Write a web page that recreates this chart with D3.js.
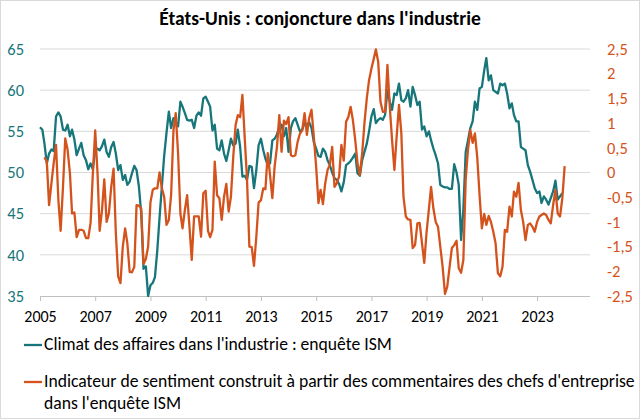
<!DOCTYPE html>
<html><head><meta charset="utf-8">
<script src="https://cdn.jsdelivr.net/npm/d3@7"></script>
<style>body{margin:0;background:#fff}svg{display:block}text{font-family:Carlito,Lato,sans-serif}</style>
</head><body><svg id="c" width="640" height="419"></svg>
<script>
const titleText = "États-Unis : conjoncture dans l'industrie";
const climateStart = "2005-01";
const climateLabel = "Climat des affaires dans l'industrie : enquête ISM";
const climate = [
55.5,55.2,53.5,51.1,52.3,52.8,52.6,56.8,57.3,56.8,55.2,55.1,
55.8,54.4,55.2,54.0,52.1,52.9,53.6,52.1,51.5,50.4,51.1,50.4,
52.7,52.9,52.7,53.2,54.0,52.5,51.9,53.1,53.7,52.3,50.3,50.9,
49.1,49.7,48.5,48.9,49.9,50.8,50.3,48.3,45.0,38.3,38.6,35.0,
36.3,36.6,37.3,40.5,44.5,48.3,52.0,54.8,57.4,55.4,56.6,56.2,
55.6,58.6,58.0,57.2,56.4,56.3,56.4,55.4,56.9,57.3,56.9,59.0,
59.2,58.6,58.0,55.1,55.8,52.9,52.7,53.9,52.3,51.4,52.7,54.1,
53.3,53.5,55.2,53.1,49.5,49.6,49.1,50.8,50.7,48.1,50.3,53.3,
54.1,52.7,51.7,50.9,51.1,53.9,54.1,54.6,55.6,55.8,54.4,55.4,
52.5,55.4,56.2,56.6,55.8,55.0,55.2,56.0,55.8,56.1,55.4,53.7,
52.9,52.0,51.9,52.9,52.5,51.5,50.9,50.0,49.3,49.1,48.6,47.7,
48.8,50.9,51.1,51.4,51.8,52.3,49.9,49.6,51.5,52.5,53.5,55.0,
56.8,57.7,56.0,56.4,56.6,56.4,57.0,60.0,58.6,57.6,59.6,59.4,
60.8,58.8,58.6,59.0,60.0,58.0,60.4,59.4,58.2,58.6,55.2,55.6,
54.4,55.0,53.9,52.9,52.1,51.1,48.5,48.3,48.2,48.2,48.0,48.0,
51.0,50.0,48.5,41.8,45.5,52.5,53.9,55.4,56.2,58.6,57.6,60.2,
60.4,62.4,63.9,61.2,61.8,60.0,59.8,59.6,60.8,60.6,60.8,59.6,
57.8,58.4,57.0,56.2,56.2,53.1,52.9,52.7,50.9,50.1,49.1,48.1,
47.5,47.7,46.3,47.1,46.7,46.1,46.9,47.7,49.0,46.7,47.1,47.5
];
const sentimentStart = "2005-03";
const sentimentLabel1 = "Indicateur de sentiment construit à partir des commentaires des chefs d'entreprise";
const sentimentLabel2 = "dans l'enquête ISM";
const sentiment = [
0.31,0.22,-0.66,-0.22,0.19,0.56,-0.56,-1.18,-0.29,0.69,
0.46,-0.02,-0.83,-0.81,-1.31,-1.16,-1.16,-1.18,-1.33,-1.33,-1.02,-0.02,
0.85,-0.02,-1.18,-0.76,-0.14,-1.00,-0.83,-0.29,0.08,-1.23,-2.11,-2.24,
-1.50,-1.13,-1.43,-2.01,-2.02,-1.91,-0.66,-0.67,-0.73,-1.85,-1.75,-1.5,
-0.6,-0.35,-0.32,-0.32,0.0,-0.32,-0.49,-1.06,-0.96,-0.46,0.85,1.2,
0.39,-0.83,-1.13,-0.76,-0.46,-1.10,-1.77,-0.89,-0.89,-0.89,-1.30,-0.42,
-0.37,-1.18,-1.31,-1.16,0.22,-0.46,-0.52,-0.96,-0.49,-0.23,-0.79,-0.49,
0.32,0.96,1.16,1.12,1.57,0.69,-0.15,-1.50,-1.51,-1.89,-1.30,-0.61,
-0.56,-0.32,-0.34,0.39,-0.05,-0.52,0.12,0.52,1.16,0.42,1.05,0.98,
1.12,0.35,0.33,0.35,0.62,0.79,0.85,1.20,0.76,1.10,1.27,0.73,
0.12,-0.62,-0.35,-0.64,-0.22,0.05,0.15,0.52,-0.29,-0.22,-0.08,0.56,
0.24,1.03,1.12,1.33,1.06,0.66,0.19,-0.05,0.39,1.0,1.50,1.87,
2.1,2.3,2.49,2.24,1.43,1.23,1.23,2.18,1.33,0.66,0.05,0.73,
1.37,0.79,-0.49,-0.89,-0.95,-0.96,-1.53,-1.47,-1.03,-1.02,-1.43,-1.83,
-1.20,-0.73,-0.29,-0.73,-1.00,-1.10,-1.50,-1.91,-2.46,-2.31,-1.91,-1.53,
-1.47,-1.38,-1.94,-2.03,-1.77,-0.15,0.46,0.86,0.60,0.79,0.3,-0.45,
-1.13,-0.84,-1.06,-0.88,-1.0,-1.20,-1.43,-2.04,-2.10,-1.91,-1.16,-1.20,
-0.69,-0.89,-0.39,-0.49,-0.21,-0.76,-1.0,-1.37,-1.06,-1.03,-1.10,-1.20,
-1.0,-0.89,-0.86,-0.83,-0.86,-0.96,-1.03,-0.66,-0.35,-0.83,-0.89,-0.52,
0.13
];
const yearTicks = [2005,2007,2009,2011,2013,2015,2017,2019,2021,2023];
const leftTicks = [35,40,45,50,55,60,65];
const rightTicks = [-2.5,-2,-1.5,-1,-0.5,0,0.5,1,1.5,2,2.5];
const xDomain = ["2005-01","2024-12"];

const teal = "#17767a", orange = "#d4531c", grid = "#d9d9d9";
const parse = d3.timeParse("%Y-%m");
const svg = d3.select("#c");
const W = 640, H = 419;
const m = {l:40, r:590, t:49, b:296};

svg.append("rect").attr("x",0.5).attr("y",0.5).attr("width",W-1).attr("height",H-1)
  .attr("fill","#fff").attr("stroke","#d9d9d9");

const x = d3.scaleTime().domain(xDomain.map(parse)).range([m.l, m.r]);
const yL = d3.scaleLinear().domain([35,65]).range([m.b, m.t]);
const yR = d3.scaleLinear().domain([-2.5,2.5]).range([m.b, m.t]);

const toSeries = (start, vals) => { const s = parse(start); return vals.map((v,i)=>({d:d3.timeMonth.offset(s,i), v})); };
const climateData = toSeries(climateStart, climate);
const sentimentData = toSeries(sentimentStart, sentiment);

// gridlines
svg.append("g").selectAll("line").data(leftTicks.filter(t=>t>35)).join("line")
  .attr("x1",m.l).attr("x2",m.r).attr("y1",d=>yL(d)).attr("y2",d=>yL(d))
  .attr("stroke",grid).attr("stroke-width",1);

// x axis
const xa = svg.append("g").attr("transform",`translate(0,${m.b})`)
  .call(d3.axisBottom(x).tickValues(yearTicks.map(y=>new Date(y,0,1))).tickFormat(d3.timeFormat("%Y")).tickSize(5).tickPadding(10).tickSizeOuter(0));
xa.select(".domain").attr("stroke","#bfbfbf").attr("d",`M${m.l},0.5H${m.r}`);
xa.selectAll(".tick line").attr("stroke","#bfbfbf");
xa.selectAll("text").attr("fill","#000").style("font-size","16px");

// left axis
const la = svg.append("g").attr("transform",`translate(${m.l},0)`)
  .call(d3.axisLeft(yL).tickValues(leftTicks).tickSize(0).tickPadding(16));
la.select(".domain").remove();
la.selectAll("text").attr("fill",teal).style("font-size","16.5px");

// right axis
const fmt = v => d3.format("")(v).replace(".",",").replace("−","-");
const ra = svg.append("g").attr("transform",`translate(${m.r},0)`)
  .call(d3.axisRight(yR).tickValues(rightTicks).tickSize(0).tickPadding(17).tickFormat(fmt));
ra.select(".domain").remove();
ra.selectAll("text").attr("fill",orange).style("font-size","16.5px");

// lines
const lineL = d3.line().x(d=>x(d.d)).y(d=>yL(d.v));
const lineR = d3.line().x(d=>x(d.d)).y(d=>yR(d.v));
svg.append("path").datum(climateData).attr("d",lineL).attr("fill","none")
  .attr("stroke",teal).attr("stroke-width",2.3).attr("stroke-linejoin","round");
svg.append("path").datum(sentimentData).attr("d",lineR).attr("fill","none")
  .attr("stroke",orange).attr("stroke-width",2.3).attr("stroke-linejoin","round");

// title
const t = svg.append("text").attr("x",320).attr("y",25).attr("text-anchor","middle")
  .style("font-weight","bold").style("font-size","18px").attr("fill","#000").text(titleText);
const tw = t.node().getComputedTextLength();
t.style("font-size", (18*322/tw).toFixed(2)+"px");

// legend
const lg = svg.append("g");
lg.append("line").attr("x1",24).attr("x2",42).attr("y1",345).attr("y2",345).attr("stroke",teal).attr("stroke-width",2.3);
lg.append("line").attr("x1",24).attr("x2",42).attr("y1",382).attr("y2",382).attr("stroke",orange).attr("stroke-width",2.3);
const t2 = lg.append("text").attr("x",44).attr("y",387).style("font-size","15px").attr("fill","#000").text(sentimentLabel1);
const fs = 15*591/t2.node().getComputedTextLength();
t2.style("font-size",fs.toFixed(2)+"px");
lg.append("text").attr("x",44).attr("y",350).style("font-size",fs.toFixed(2)+"px").attr("fill","#000").text(climateLabel);
lg.append("text").attr("x",44).attr("y",409).style("font-size",fs.toFixed(2)+"px").attr("fill","#000").text(sentimentLabel2);
</script></body></html>
